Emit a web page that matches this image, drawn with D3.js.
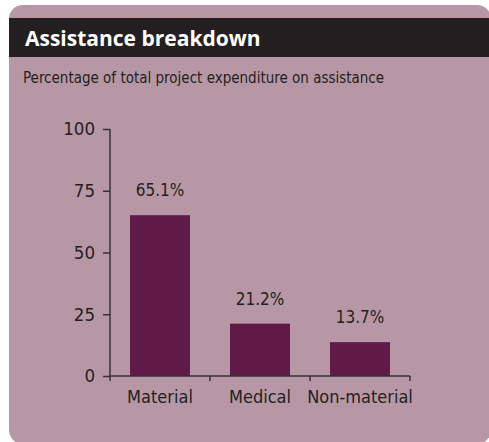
<!DOCTYPE html>
<html>
<head>
<meta charset="utf-8">
<script src="https://cdn.jsdelivr.net/npm/d3@7"></script>
<style>
  body { margin: 0; background: #fff; }
  svg { display: block; }
  .cond { font-family: "Liberation Sans Narrow", "DejaVu Sans Condensed", "Roboto", sans-serif; }
</style>
</head>
<body>
<div id="chart"></div>
<script>
const categories = ['Material', 'Medical', 'Non-material'];
const values = [65.1, 21.2, 13.7];
const valueLabels = ['65.1%', '21.2%', '13.7%'];
const yTicks = [0, 25, 50, 75, 100];

const W = 489, H = 442;
const svg = d3.select('#chart').append('svg')
    .attr('width', W)
    .attr('height', H);

// panel
svg.append('rect')
    .attr('x', 9).attr('y', 5)
    .attr('width', 482).attr('height', 439)
    .attr('rx', 14)
    .attr('fill', '#b797a5');

// title band
svg.append('rect')
    .attr('x', 9).attr('y', 18)
    .attr('width', 480).attr('height', 39)
    .attr('fill', '#231f20');

svg.append('text')
    .attr('x', 25).attr('y', 46)
    .attr('fill', '#fff')
    .style('font-family', '"Open Sans", sans-serif')
    .style('font-weight', 'bold')
    .style('font-size', '21px')
    .text('Assistance breakdown');

svg.append('text')
    .attr('class', 'cond')
    .attr('x', 23).attr('y', 83)
    .attr('fill', '#231f20')
    .style('font-size', '15px')
    .text('Percentage of total project expenditure on assistance');

const x = d3.scaleBand()
    .domain(categories)
    .range([110, 410]);
const y = d3.scaleLinear()
    .domain([0, 100])
    .range([376, 129]);

const g = svg.append('g');

// bars
g.selectAll('rect.bar')
    .data(values)
    .enter().append('rect')
    .attr('class', 'bar')
    .attr('x', (d, i) => x(categories[i]) + x.bandwidth() * 0.2)
    .attr('width', x.bandwidth() * 0.6)
    .attr('y', d => y(d))
    .attr('height', d => y(0) - y(d))
    .attr('fill', '#5f1a48');

// value labels
g.selectAll('text.val')
    .data(values)
    .enter().append('text')
    .attr('class', 'val cond')
    .attr('x', (d, i) => x(categories[i]) + x.bandwidth() / 2)
    .attr('y', d => y(d) - 19)
    .attr('text-anchor', 'middle')
    .attr('fill', '#231f20')
    .style('font-size', '17px')
    .text((d, i) => valueLabels[i]);

// y axis
const yAxis = g.append('g')
    .attr('transform', 'translate(110,0)')
    .call(d3.axisLeft(y).tickValues(yTicks).tickSize(7).tickPadding(8));
yAxis.select('.domain').attr('d', `M0,${y(100)}V${y(0)}`);

// x axis: ticks at band edges
const xAxis = g.append('g')
    .attr('transform', `translate(0,${y(0)})`);
xAxis.append('line')
    .attr('x1', x.range()[0]).attr('x2', x.range()[1])
    .attr('y1', 0).attr('y2', 0);
const edges = categories.map(c => x(c)).concat([x.range()[1]]);
xAxis.selectAll('line.tk')
    .data(edges)
    .enter().append('line')
    .attr('class', 'tk')
    .attr('x1', d => d).attr('x2', d => d)
    .attr('y1', 0).attr('y2', 5);
xAxis.selectAll('text')
    .data(categories)
    .enter().append('text')
    .attr('class', 'cond')
    .attr('x', d => x(d) + x.bandwidth() / 2)
    .attr('y', 27)
    .attr('text-anchor', 'middle')
    .attr('fill', '#231f20')
    .style('font-size', '18px')
    .text(d => d);

[yAxis, xAxis].forEach(a => {
  a.selectAll('line, path').attr('stroke', '#333').attr('stroke-width', 1.5);
});
yAxis.selectAll('text')
    .attr('class', 'cond')
    .attr('fill', '#231f20')
    .style('font-size', '18.5px');
yAxis.attr('font-family', null).attr('font-size', null);
</script>
</body>
</html>
